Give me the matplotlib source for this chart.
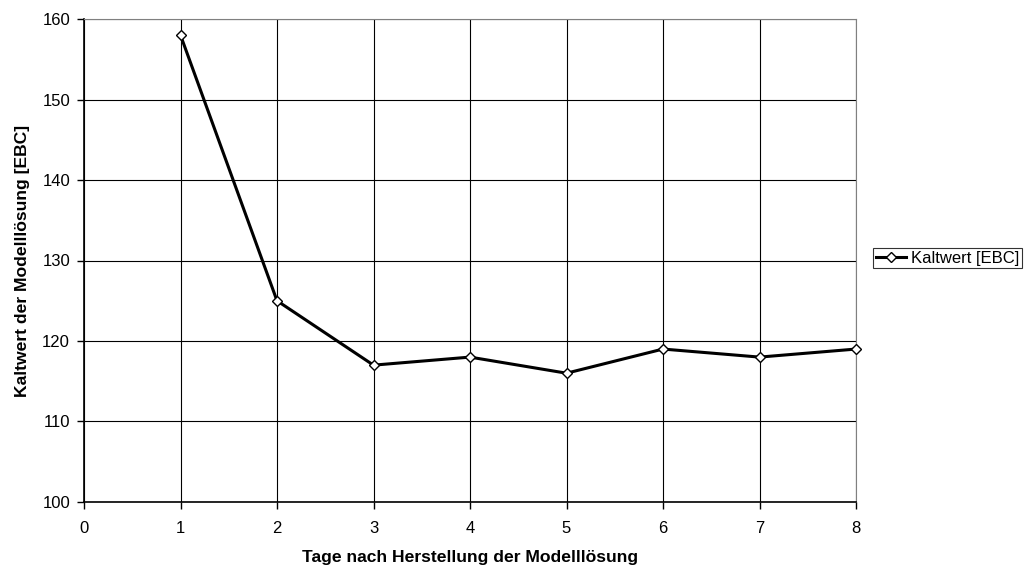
import matplotlib
matplotlib.use("Agg")
import matplotlib.pyplot as plt

plt.rcParams['font.family'] = ['Liberation Sans', 'DejaVu Sans']

tage = [1, 2, 3, 4, 5, 6, 7, 8]
kaltwert = [158, 125, 117, 118, 116, 119, 118, 119]
x_ticks = [0, 1, 2, 3, 4, 5, 6, 7, 8]
y_ticks = [100, 110, 120, 130, 140, 150, 160]

fig = plt.figure(figsize=(10.32, 5.67), dpi=100)
ax = fig.add_axes([84 / 1032, 1 - 502 / 567, (856 - 84) / 1032, (502 - 19) / 567])

ax.plot(tage, kaltwert, color='black', lw=2.2, marker='D', ms=5.5,
        mfc='white', mec='black', mew=1, label='Kaltwert [EBC]', zorder=3,
        clip_on=False)

ax.set_xlim(0, 8)
ax.set_ylim(100, 160)
ax.set_xticks(x_ticks)
ax.set_yticks(y_ticks)
ax.grid(True, color='black', lw=0.8)
ax.tick_params(direction='out', length=5, width=1, labelsize=12)
ax.tick_params(axis='x', pad=9)
ax.tick_params(axis='y', pad=5)
for s in ['top', 'right']:
    ax.spines[s].set_color('#808080')
    ax.spines[s].set_linewidth(0.8)
for s in ['left', 'bottom']:
    ax.spines[s].set_linewidth(1.2)

ax.set_xlabel('Tage nach Herstellung der Modelllösung', fontsize=12.6, fontweight='bold', labelpad=10)
ax.set_ylabel('Kaltwert der Modelllösung [EBC]', fontsize=12.6, fontweight='bold', labelpad=9)

leg = fig.legend(loc='center left', bbox_to_anchor=(873 / 1032, 1 - 258 / 567),
                 fontsize=12, frameon=True, fancybox=False, edgecolor='black',
                 handlelength=1.8, borderpad=0.15, handletextpad=0.35,
                 borderaxespad=0)
leg.get_frame().set_linewidth(0.8)

fig.savefig('out.png', dpi=100)
